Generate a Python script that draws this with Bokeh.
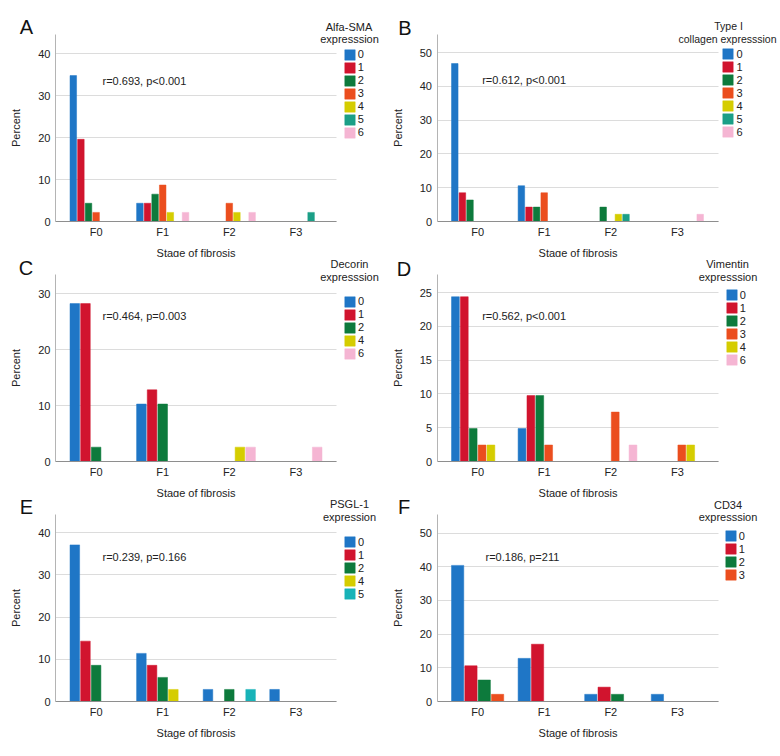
from bokeh.plotting import figure
from bokeh.models import (ColumnDataSource, Legend, LegendItem, Label, FixedTicker,
                          Range1d, Grid)
from bokeh.layouts import column, row
from bokeh.transform import dodge
from bokeh.embed import file_html
from bokeh.resources import INLINE

# ---------------- data ----------------
STAGES = ["F0", "F1", "F2", "F3"]

A_LEVELS = ["0", "1", "2", "3", "4", "5", "6"]
A_VALUES = [
    [34.8, 4.35, 0, 0],
    [19.6, 4.35, 0, 0],
    [4.35, 6.52, 0, 0],
    [2.17, 8.70, 4.35, 0],
    [0, 2.17, 2.17, 0],
    [0, 0, 0, 2.17],
    [0, 2.17, 2.17, 0],
]
A_STAT = "r=0.693, p<0.001"
A_TITLE = ["Alfa-SMA", "expresssion"]
A_YTICKS = [0, 10, 20, 30, 40]

B_LEVELS = ["0", "1", "2", "3", "4", "5", "6"]
B_VALUES = [
    [46.8, 10.6, 0, 0],
    [8.51, 4.26, 0, 0],
    [6.38, 4.26, 4.26, 0],
    [0, 8.51, 0, 0],
    [0, 0, 2.13, 0],
    [0, 0, 2.13, 0],
    [0, 0, 0, 2.13],
]
B_STAT = "r=0.612, p<0.001"
B_TITLE = ["Type I", "collagen expresssion"]
B_YTICKS = [0, 10, 20, 30, 40, 50]

C_LEVELS = ["0", "1", "2", "4", "6"]
C_VALUES = [
    [28.2, 10.26, 0, 0],
    [28.2, 12.8, 0, 0],
    [2.56, 10.26, 0, 0],
    [0, 0, 2.56, 0],
    [0, 0, 2.56, 2.56],
]
C_STAT = "r=0.464, p=0.003"
C_TITLE = ["Decorin", "expresssion"]
C_YTICKS = [0, 10, 20, 30]

D_LEVELS = ["0", "1", "2", "3", "4", "6"]
D_VALUES = [
    [24.4, 4.88, 0, 0],
    [24.4, 9.76, 0, 0],
    [4.88, 9.76, 0, 0],
    [2.44, 2.44, 7.32, 2.44],
    [2.44, 0, 0, 2.44],
    [0, 0, 2.44, 0],
]
D_STAT = "r=0.562, p<0.001"
D_TITLE = ["Vimentin", "expresssion"]
D_YTICKS = [0, 5, 10, 15, 20, 25]

E_LEVELS = ["0", "1", "2", "4", "5"]
E_VALUES = [
    [37.1, 11.4, 2.86, 2.86],
    [14.3, 8.57, 0, 0],
    [8.57, 5.71, 2.86, 0],
    [0, 2.86, 0, 0],
    [0, 0, 2.86, 0],
]
E_STAT = "r=0.239, p=0.166"
E_TITLE = ["PSGL-1", "expression"]
E_YTICKS = [0, 10, 20, 30, 40]

F_LEVELS = ["0", "1", "2", "3"]
F_VALUES = [
    [40.4, 12.8, 2.13, 2.13],
    [10.6, 17.0, 4.26, 0],
    [6.38, 0, 2.13, 0],
    [2.13, 0, 0, 0],
]
F_STAT = "r=0.186, p=211"
F_TITLE = ["CD34", "expresssion"]
F_YTICKS = [0, 10, 20, 30, 40, 50]

# ---------------- styling / layout ----------------
COLORS = {"0": "#1f76c6", "1": "#d1142e", "2": "#0d7a3c", "3": "#eb4e1e",
          "4": "#d5cd00", "5": "#1b9f87", "6": "#f5b5d3"}
E_COLORS = dict(COLORS, **{"5": "#18b3b8"})

FONT = "Liberation Sans"
TXT = "#222222"
ITEM_H = 13
PLOT_W = 281          # px width of the bar area
PLOT_H = 187          # px height of the bar area
X0, X1 = -0.61, 3.61  # data extent of the bar area
HAS_CROSS = "cross_bounds" in Grid.properties()


def make_panel(letter, levels, values, colors, title, stat, yticks, ymax,
               fig_w, fig_h, ox, oy, ax_left, top,
               letter_xy, title_xy, stat_xy, legend_xy, title_size="11px"):
    """ox, oy: page position of the figure; *_xy: page positions of texts."""
    bottom = fig_h - top - PLOT_H
    pxu = PLOT_W / (X1 - X0)
    pyu = PLOT_H / ymax
    xr = Range1d(X0 - ax_left / pxu, X1 + (fig_w - ax_left - PLOT_W) / pxu)
    yr = Range1d(-bottom / pyu, ymax + top / pyu)
    p = figure(width=fig_w, height=fig_h, x_range=xr, y_range=yr,
               output_backend="svg", toolbar_location=None, min_border=0)
    p.outline_line_color = None
    p.background_fill_color = "white"
    p.border_fill_color = "white"
    p.xgrid.visible = False

    def sx(x):
        return x - ox

    def sy(y):
        return fig_h - (y - oy)

    # horizontal grid limited to the bar area
    if HAS_CROSS:
        p.ygrid.grid_line_color = "#dcdcdc"
        p.ygrid.cross_bounds = (X0, X1)
    else:
        p.ygrid.visible = False
        gy = [t for t in yticks if t > 0]
        p.segment(x0=[X0] * len(gy), x1=[X1] * len(gy), y0=gy, y1=gy,
                  line_color="#dcdcdc", line_width=1)

    n = len(levels)
    slot = 0.8 / n
    bw = slot - 0.016
    items = []
    for k, (lvl, vals) in enumerate(zip(levels, values)):
        xs = [i for i, v in enumerate(vals) if v > 0]
        tops = [v for v in vals if v > 0]
        src = ColumnDataSource(dict(x=xs, top=tops))
        off = (k - (n - 1) / 2) * slot
        r = p.vbar(x=dodge("x", off), top="top", width=bw, bottom=0,
                   source=src, fill_color=colors[lvl], line_color=colors[lvl],
                   line_width=0.5)
        items.append(LegendItem(label=lvl, renderers=[r]))

    # axes drawn at fixed data positions
    xa, ya = p.xaxis[0], p.yaxis[0]
    xa.ticker = FixedTicker(ticks=list(range(len(STAGES))))
    xa.major_label_overrides = {i: s for i, s in enumerate(STAGES)}
    ya.ticker = FixedTicker(ticks=yticks)
    xa.fixed_location = 0
    ya.fixed_location = X0
    xa.bounds = (X0, X1)
    ya.bounds = (0, ymax)
    for ax in (xa, ya):
        ax.major_tick_line_color = None
        ax.minor_tick_line_color = None
        ax.major_tick_out = 0
        ax.major_tick_in = 0
        ax.minor_tick_out = 0
        ax.minor_tick_in = 0
        ax.major_label_text_font = FONT
        ax.major_label_text_font_size = "11px"
        ax.major_label_text_color = TXT
        ax.axis_label_text_font = FONT
        ax.axis_label_text_font_size = "11px"
        ax.axis_label_text_font_style = "normal"
        ax.axis_label_text_color = TXT
    xa.axis_line_color = "#8e8e8e"
    ya.axis_line_color = "#b4b4b4"
    xa.axis_label = "Stage of fibrosis"
    ya.axis_label = "Percent"
    xa.major_label_standoff = 4
    xa.axis_label_standoff = 6
    ya.major_label_standoff = 5
    ya.axis_label_standoff = 13

    # legend: square left / first square top (page px)
    lx, ly = legend_xy
    legend = Legend(items=items,
                    location=(sx(lx) - 1.3, sy(ly) + 1.3 - n * ITEM_H),
                    glyph_width=13, glyph_height=13, label_height=ITEM_H,
                    label_standoff=2, spacing=0, padding=0, margin=0,
                    border_line_color=None, background_fill_alpha=0,
                    label_text_font=FONT, label_text_font_size="11px",
                    label_text_color=TXT)
    p.add_layout(legend)

    for txt, (tx, ty) in zip(title, title_xy):
        p.add_layout(Label(x=sx(tx), y=sy(ty), x_units="screen", y_units="screen",
                           text=txt, text_align="center", text_baseline="middle",
                           text_font=FONT, text_font_size=title_size, text_color=TXT))

    stx, sty = stat_xy
    p.add_layout(Label(x=sx(stx), y=sy(sty), x_units="screen", y_units="screen",
                       text=stat, text_align="left", text_baseline="middle",
                       text_font=FONT, text_font_size="11px", text_color=TXT))

    bx, by = letter_xy
    p.add_layout(Label(x=sx(bx), y=sy(by), x_units="screen", y_units="screen",
                       text=letter, text_align="center", text_baseline="middle",
                       text_font=FONT, text_font_size="20px", text_color="#111111"))
    return p


W1, W2 = 390, 389
H1, H2, H3 = 257, 240, 258
R2, R3 = H1, H1 + H2

pA = make_panel("A", A_LEVELS, A_VALUES, COLORS, A_TITLE, A_STAT, A_YTICKS, 44.6,
                W1, H1, 0, 0, 55, 34,
                (26, 26.7), [(348.5, 26), (349, 38.5)], (102, 80), (344, 49))
pB = make_panel("B", B_LEVELS, B_VALUES, COLORS, B_TITLE, B_STAT, B_YTICKS, 55.4,
                W2, H1, W1, 0, 46.5, 34,
                (404.5, 27.7), [(728, 25), (727, 38)], (481.7, 79), (722.7, 48.3),
                title_size="10.5px")
pC = make_panel("C", C_LEVELS, C_VALUES, COLORS, C_TITLE, C_STAT, C_YTICKS, 33.4,
                W1, H2, 0, R2, 55, 17,
                (25.5, 267.2), [(349, 263.5), (349, 276.7)], (102, 315.3), (344.3, 296))
pD = make_panel("D", D_LEVELS, D_VALUES, COLORS, D_TITLE, D_STAT, D_YTICKS, 27.7,
                W2, H2, W1, R2, 46.5, 17,
                (403.5, 268.7), [(727, 263.5), (727.5, 276.7)], (481.7, 315.7), (726, 289.3))
pE = make_panel("E", E_LEVELS, E_VALUES, E_COLORS, E_TITLE, E_STAT, E_YTICKS, 44.3,
                W1, H3, 0, R3, 55, 17,
                (26, 506.7), [(349, 503.5), (349, 516.7)], (102, 556.7), (344.3, 536.7))
pF = make_panel("F", F_LEVELS, F_VALUES, COLORS, F_TITLE, F_STAT, F_YTICKS, 55.5,
                W2, H3, W1, R3, 46.5, 17,
                (403.7, 506.7), [(727.5, 504), (727.5, 516.7)], (485, 556.7), (725, 530.7))

layout = column(row(pA, pB), row(pC, pD), row(pE, pF))

with open("out.html", "w") as f:
    f.write(file_html(layout, INLINE))
